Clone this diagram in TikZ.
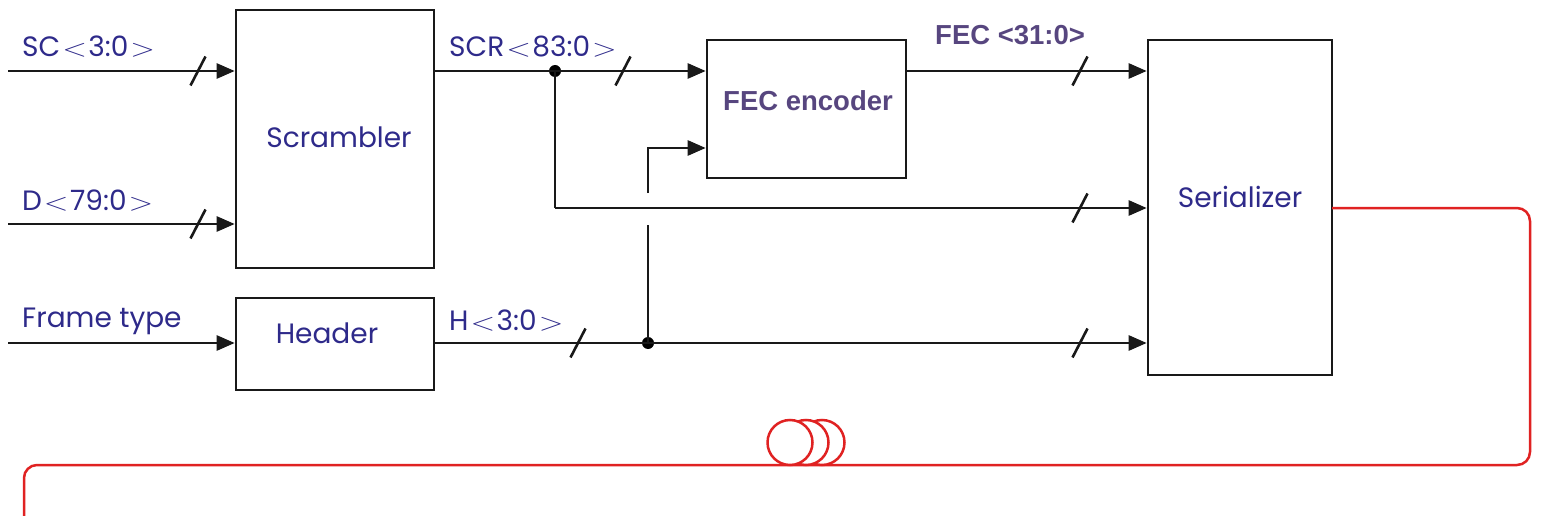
\documentclass[tikz,border=0pt]{standalone}
\usepackage{fontspec}
\usetikzlibrary{arrows.meta}
\newfontfamily\agfont{Poppins}
\newfontfamily\arfont{Liberation Sans}
\definecolor{navy}{HTML}{2E2A8A}
\definecolor{fecpurple}{HTML}{57467F}
\definecolor{fiber}{HTML}{E02222}
\newcommand{\lt}{\hspace{2pt}\scalebox{1.3}[1.0]{$<$}\hspace{1.5pt}}
\newcommand{\gt}{\hspace{2pt}\scalebox{1.3}[1.0]{$>$}}
\begin{document}
\begin{tikzpicture}[x=1pt,y=-1pt,
  blk/.style={draw=black!90, line width=2.6pt, inner sep=0pt},
  wire/.style={draw=black!90, line width=2.6pt},
  arr/.style={wire, -{Triangle[length=18pt,width=15pt]}},
  slash/.style={draw=black!90, line width=2.6pt},
  dot/.style={circle, fill=black, inner sep=0pt, minimum size=12pt},
  lab/.style={text=navy, font=\agfont\fontsize{28}{30}\selectfont, inner sep=0pt},
  blab/.style={text=navy, font=\agfont\fontsize{28}{30}\selectfont, inner sep=0pt},
  flab/.style={text=fecpurple, font=\arfont\bfseries\fontsize{27.5}{30}\selectfont, inner sep=0pt},
  fiberline/.style={draw=fiber, line width=2.5pt}]
\useasboundingbox (0,0) rectangle (1542,516);
\clip (0,0) rectangle (1542,516);

% blocks
\node[blk, minimum width=198pt, minimum height=258pt] (scr) at (335,139) {};
\node[blk, minimum width=198pt, minimum height=92pt] (hdr) at (335,344) {};
\node[blk, minimum width=199pt, minimum height=138pt] (fec) at (806.5,109) {};
\node[blk, minimum width=184pt, minimum height=335pt] (ser) at (1240,207.5) {};

\node[blab] (tscr) at (339,137) {Scrambler};
\node[blab] (thdr) at (327,333) {Header};
\node[flab] (tfec) at (808,101) {FEC encoder};
\node[blab] (tser) at (1240,197) {Serializer};

% input labels
\node[lab, anchor=base west] (lsc) at (22,57) {SC\lt3:0\gt};
\node[lab, anchor=base west] (ld) at (22,210) {D\lt79:0\gt};
\node[lab, anchor=base west] (lft) at (22,327) {Frame type};
\node[lab, anchor=base west] (lscr) at (449,57) {SCR\lt83:0\gt};
\node[lab, anchor=base west] (lh) at (449,330) {H\lt3:0\gt};
\node[flab, anchor=base west] (lfec) at (935,45) {FEC <31:0>};

% coordinates
\coordinate (insc) at (8,71);
\coordinate (ind) at (8,224);
\coordinate (inft) at (8,343);
\node[dot] (j1) at (555,71) {};
\node[dot] (j2) at (648,343) {};
\coordinate (c1) at (555,208);
\coordinate (g1) at (648,225);
\coordinate (g2) at (648,193);
\coordinate (c2) at (648,148);
\coordinate (fo) at (1332,208);
\coordinate (r1) at (1530,208);
\coordinate (r2) at (1530,465);
\coordinate (r3) at (24,465);
\coordinate (r4) at (24,530);

% connectors
\draw[arr] (insc) -- (insc -| scr.west);
\draw[arr] (ind) -- (ind -| scr.west);
\draw[arr] (inft) -- (inft -| hdr.west);
\draw[wire] (insc -| scr.east) -- (j1.center);
\draw[arr] (j1.center) -- (j1 -| fec.west);
\draw[wire] (j1.center) -- (c1);
\draw[arr] (c1) -- (c1 -| ser.west);
\draw[wire] (inft -| hdr.east) -- (j2.center);
\draw[arr] (j2.center) -- (j2 -| ser.west);
\draw[wire] (j2.center) -- (g1);
\draw[arr] (g2) -- (c2) -- (c2 -| fec.west);
\draw[arr] (insc -| fec.east) -- (insc -| ser.west);

% bus slashes
\foreach \p in {(198,71),(198,224),(623,71),(578,343),(1080,71),(1080,208),(1080,343)}
  \draw[slash] \p ++(-7.5,14.5) -- ++(15,-29);

% fiber
\draw[fiberline, rounded corners=13pt] (fo) -- (r1) -- (r2) -- (r3) -- (r4);
\draw[fiberline, fill=white] (822,442.5) circle (22.5);
\draw[fiberline, fill=white] (806,442.5) circle (22.5);
\draw[fiberline, fill=white] (790,442.5) circle (22.5);
\end{tikzpicture}
\end{document}
